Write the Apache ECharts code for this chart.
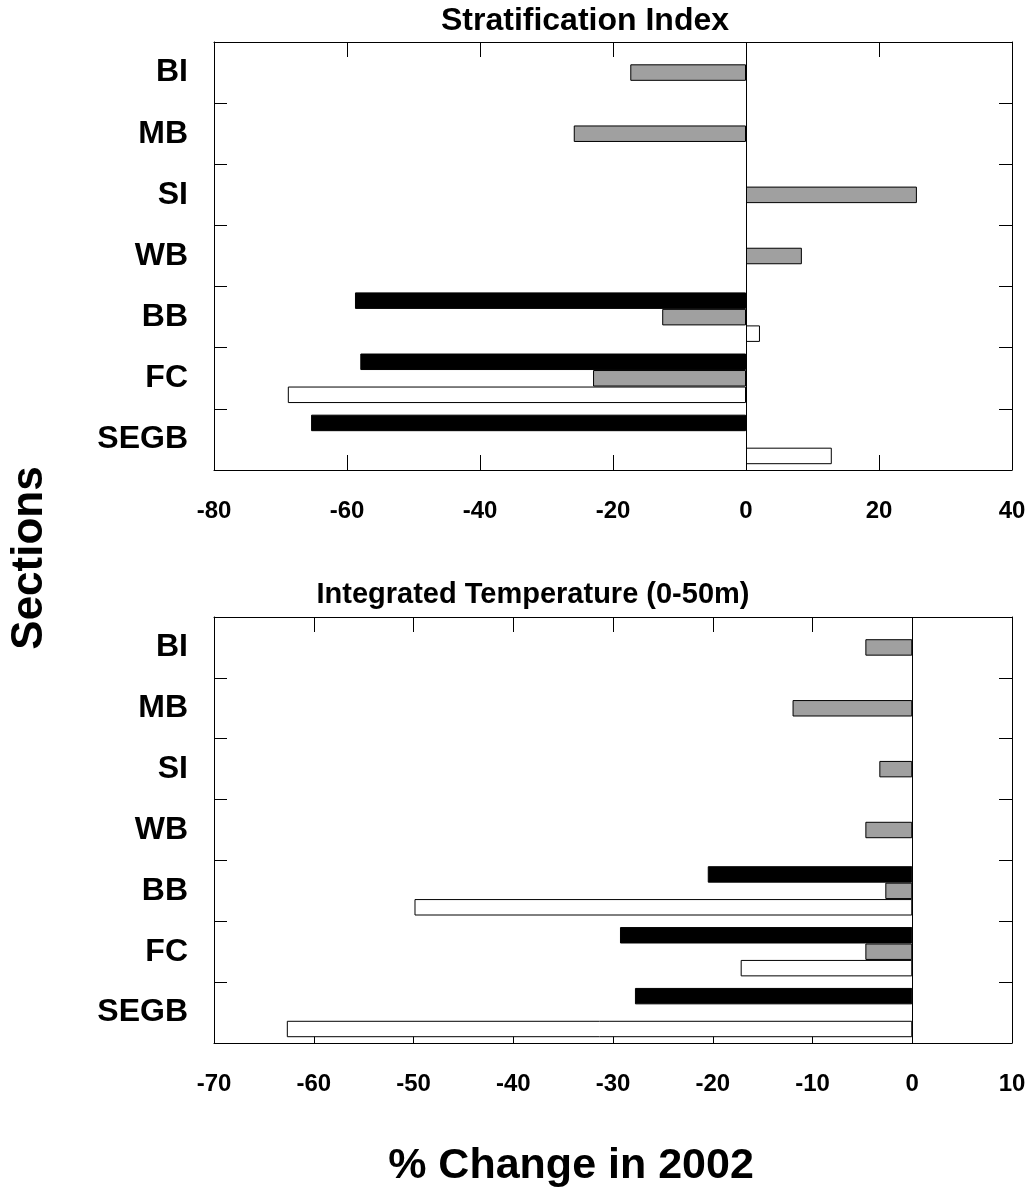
<!DOCTYPE html>
<html>
<head>
<meta charset="utf-8">
<script src="https://cdn.jsdelivr.net/npm/echarts@6/dist/echarts.min.js"></script>
<style>
  html, body { margin: 0; padding: 0; background: #fff; }
  #chart { width: 1031px; height: 1197px; }
</style>
</head>
<body>
<div id="chart"></div>
<script>
const sections = ['BI', 'MB', 'SI', 'WB', 'BB', 'FC', 'SEGB']

// Stratification Index, % change
const stratBlack = [null, null, null, null, -58.8, -58, -65.4]
const stratGray = [-17.4, -25.9, 25.7, 8.4, -12.6, -23, null]
const stratWhite = [null, null, null, null, 2.1, -68.9, 12.9]

// Integrated Temperature (0-50m), % change
const tempBlack = [null, null, null, null, -20.5, -29.3, -27.8]
const tempGray = [-4.7, -12, -3.3, -4.7, -2.7, -4.7, null]
const tempWhite = [null, null, null, null, -49.9, -17.2, -62.7]

const FONT = '"Liberation Sans", Arial, sans-serif'
const chart = echarts.init(document.getElementById('chart'))

const xAxisFn = (gridIndex, min, max, interval, showLabel) => ({
  type: 'value',
  gridIndex,
  min,
  max,
  interval,
  position: showLabel ? 'bottom' : 'top',
  axisLine: { show: true, lineStyle: { color: '#000', width: 1 } },
  axisTick: { show: true, inside: true, length: 15, lineStyle: { color: '#000' } },
  axisLabel: {
    show: showLabel,
    margin: 29,
    color: '#000',
    fontFamily: FONT,
    fontWeight: 'bold',
    fontSize: 24
  },
  splitLine: { show: false }
})

const yAxisFn = (gridIndex, showLabel) => ({
  type: 'category',
  gridIndex,
  inverse: true,
  data: sections,
  position: showLabel ? 'left' : 'right',
  axisLine: { show: true, onZero: false, lineStyle: { color: '#000', width: 1 } },
  axisTick: { show: true, inside: true, length: 13, lineStyle: { color: '#000' } },
  axisLabel: {
    show: showLabel,
    margin: 26,
    color: '#000',
    fontFamily: FONT,
    fontWeight: 'bold',
    fontSize: 32
  },
  splitLine: { show: false }
})

const zeroLine = {
  silent: true,
  symbol: 'none',
  label: { show: false },
  lineStyle: { color: '#000', type: 'solid', width: 1 },
  data: [{ xAxis: 0 }]
}

const barFn = (name, data, color, xAxisIndex, yAxisIndex, withZero) => ({
  name,
  type: 'bar',
  data,
  xAxisIndex,
  yAxisIndex,
  barGap: 0,
  barCategoryGap: '19%',
  itemStyle: { color, borderColor: '#000', borderWidth: 1 },
  markLine: withZero ? zeroLine : undefined,
  animation: false
})

chart.setOption({
  animation: false,
  grid: [
    { left: 214, top: 42, width: 798, height: 428 },
    { left: 214, top: 617, width: 798, height: 426 }
  ],
  xAxis: [
    xAxisFn(0, -80, 40, 20, true),
    xAxisFn(0, -80, 40, 20, false),
    xAxisFn(1, -70, 10, 10, true),
    xAxisFn(1, -70, 10, 10, false)
  ],
  yAxis: [
    yAxisFn(0, true),
    yAxisFn(0, false),
    yAxisFn(1, true),
    yAxisFn(1, false)
  ],
  series: [
    barFn('black', stratBlack, '#000000', 0, 0, true),
    barFn('gray', stratGray, '#a0a0a0', 0, 0, false),
    barFn('white', stratWhite, '#ffffff', 0, 0, false),
    barFn('black', tempBlack, '#000000', 2, 2, true),
    barFn('gray', tempGray, '#a0a0a0', 2, 2, false),
    barFn('white', tempWhite, '#ffffff', 2, 2, false)
  ],
  graphic: [
    {
      type: 'text',
      x: 585,
      y: 21,
      style: {
        text: 'Stratification Index',
        font: 'bold 32px ' + FONT,
        fill: '#000',
        textAlign: 'center',
        textVerticalAlign: 'middle'
      }
    },
    {
      type: 'text',
      x: 533,
      y: 595,
      style: {
        text: 'Integrated Temperature (0-50m)',
        font: 'bold 29px ' + FONT,
        fill: '#000',
        textAlign: 'center',
        textVerticalAlign: 'middle'
      }
    },
    {
      type: 'text',
      x: 30,
      y: 558,
      rotation: Math.PI / 2,
      style: {
        text: 'Sections',
        font: 'bold 44px ' + FONT,
        fill: '#000',
        textAlign: 'center',
        textVerticalAlign: 'middle'
      }
    },
    {
      type: 'text',
      x: 571,
      y: 1166,
      style: {
        text: '% Change in 2002',
        font: 'bold 43px ' + FONT,
        fill: '#000',
        textAlign: 'center',
        textVerticalAlign: 'middle'
      }
    }
  ]
})
</script>
</body>
</html>
